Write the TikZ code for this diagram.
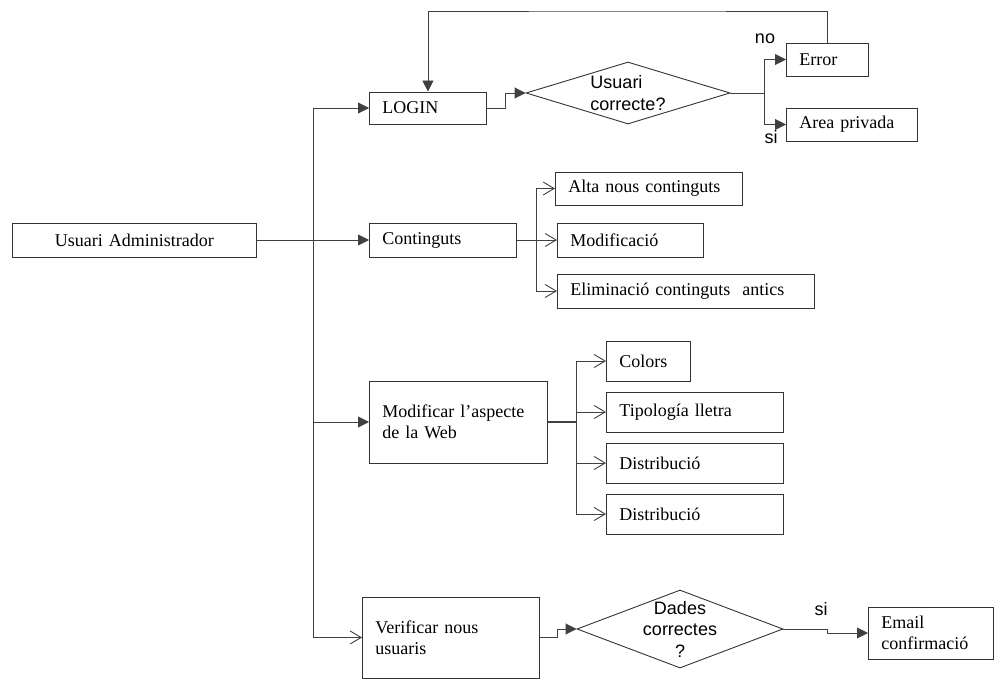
\documentclass[tikz,border=0pt]{standalone}
\usepackage{fontspec}
\setmainfont{Liberation Serif}
\newfontfamily\arialfont{Liberation Sans}
\usetikzlibrary{positioning,arrows.meta,shapes.geometric}

\tikzset{
  box/.style={draw=black!80, line width=0.9pt, anchor=west, inner xsep=13pt, inner ysep=0pt,
    align=left, font=\fontsize{18}{21.5}\selectfont},
  ask/.style={diamond, draw=black!80, line width=0.9pt, inner xsep=0pt, inner ysep=-6pt,
    align=center, font=\arialfont\fontsize{18}{21.5}\selectfont},
  lbl/.style={inner sep=0pt, font=\arialfont\fontsize{18}{21.5}\selectfont},
  link/.style={draw=black!75, line width=0.9pt},
  fillarrow/.style={link, -{Triangle[length=11pt,width=11pt]}},
  openarrow/.style={link, -{Straight Barb[length=11pt,width=13pt]}}
}

\begin{document}
\begin{tikzpicture}[x=1pt,y=-1pt]
\useasboundingbox (0,0) rectangle (994,679);
% boxes
\node[box, text width=218, minimum height=34, align=center] (admin) at (12,240) {Usuari Administrador};
\node[box, text width=91, minimum height=32] (login) at (369,108) {LOGIN};
\node[box, text width=56, minimum height=33] (error) at (786,59.5) {Error};
\node[box, text width=105, minimum height=33] (privat) at (786,124.5) {Area privada};
\node[box, text width=121, minimum height=34] (contingut) at (369,240) {Continguts};
\node[box, text width=161, minimum height=33] (alta) at (555,188.5) {Alta nous continguts};
\node[box, text width=120, minimum height=34] (modif) at (557,240) {Modificació};
\node[box, text width=231, minimum height=34] (elim) at (557,291) {Eliminació continguts~ antics};
\node[box, text width=152, minimum height=82] (aspecte) at (369,422) {Modificar l’aspecte\\de la Web};
\node[box, text width=58, minimum height=40] (colors) at (606,361) {Colors};
\node[box, text width=151, minimum height=40] (tipus) at (606,412) {Tipología lletra};
\node[box, text width=151, minimum height=40] (distA) at (606,463) {Distribució};
\node[box, text width=151, minimum height=40] (distB) at (606,514) {Distribució};
\node[box, text width=151, minimum height=81] (verif) at (362,637.5) {Verificar nous\\usuaris};
\node[box, text width=99, minimum height=52] (email) at (868,633) {Email\\confirmació};
% decisions
\node[ask, minimum width=204, minimum height=62, shape aspect=3.3, align=left] (userok) at (628,93) {Usuari\\correcte?};
\node[ask, minimum width=206, minimum height=78, shape aspect=2.64] (dadesok) at (680,629) {Dades\\correctes\\?};
\node[lbl] (no) at (765,39) {no};
\node[lbl] (si) at (771,137) {si};
\node[lbl] (siB) at (821,609) {si};
% trunk
\coordinate (bus) at (313,240);
\draw[fillarrow] (admin) -- (contingut);
\draw[fillarrow] (bus) |- (login);
\draw[fillarrow] (bus) |- (aspecte);
\draw[openarrow] (bus) |- (verif);
% login check
\coordinate (lbend) at (505,108);
\coordinate (usplit) at (764,93);
\coordinate (looptop) at (627,11);
\draw[fillarrow] (login) -- (lbend) |- (userok);
\draw[link] (userok) -- (usplit);
\draw[fillarrow] (usplit) |- (error);
\draw[fillarrow] (usplit) |- (privat);
\draw[fillarrow] (error) |- (looptop) -| (login);
% continguts
\coordinate (cfork) at (536,240);
\draw[link] (contingut) -- (cfork);
\foreach \n in {alta,modif,elim} {\draw[openarrow] (cfork) |- (\n);}
% aspecte
\coordinate (afork) at (576,422);
\draw[link, line width=2pt] (aspecte) -- (afork);
\foreach \n in {colors,tipus,distA,distB} {\draw[openarrow] (afork) |- (\n);}
% verificacio
\coordinate (vbend) at (557,637.5);
\coordinate (ebend) at (827,629);
\draw[fillarrow] (verif) -- (vbend) |- (dadesok);
\draw[fillarrow] (dadesok) -- (ebend) |- (email);
\end{tikzpicture}
\end{document}
